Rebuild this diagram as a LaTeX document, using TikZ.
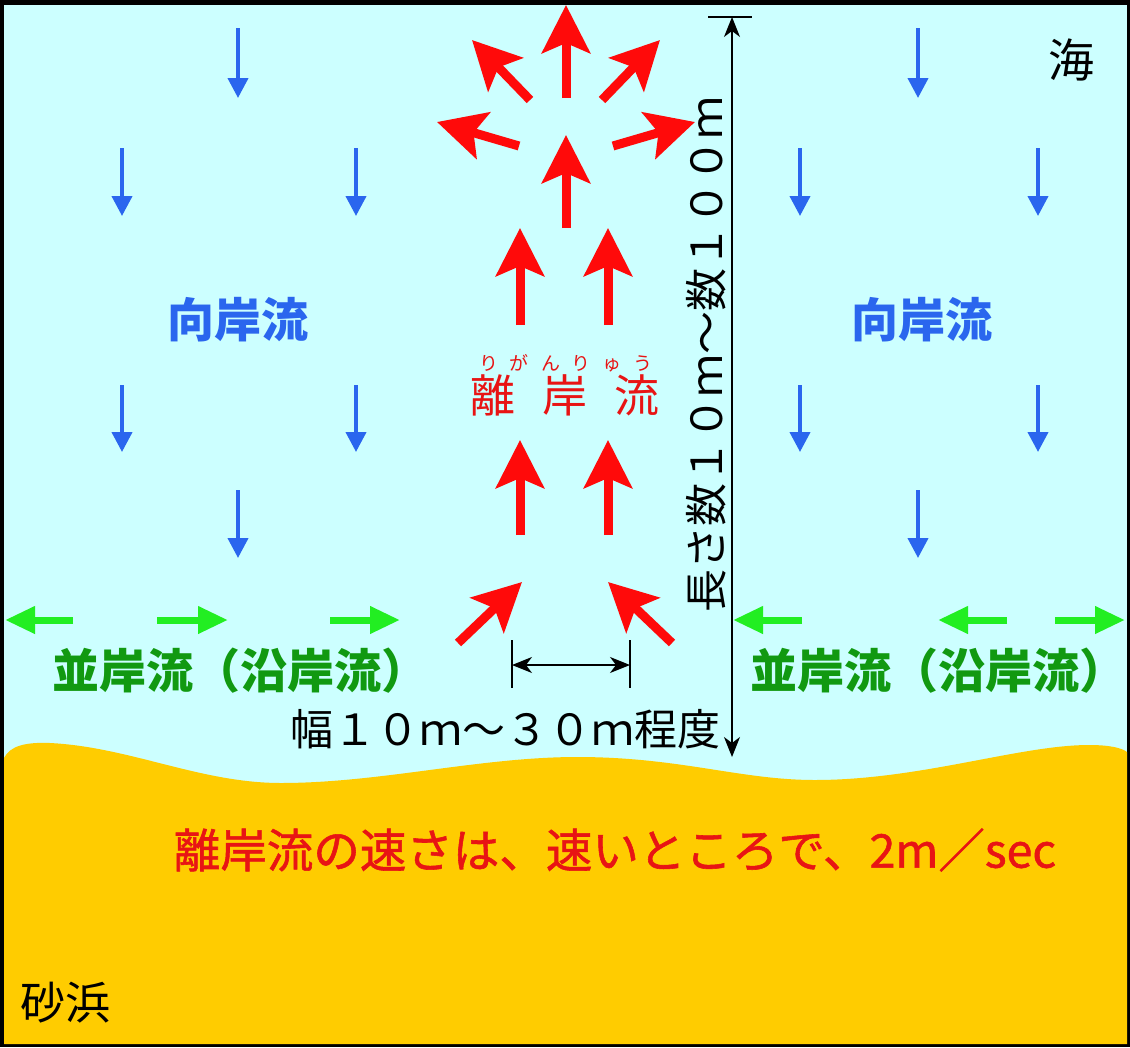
\documentclass[tikz,border=0pt]{standalone}
\usepackage{fontspec}
\newfontfamily\jp{Noto Sans CJK JP}
\newfontfamily\jpm[FakeBold=1.2]{Noto Sans CJK JP}
\usetikzlibrary{arrows.meta}
\definecolor{sea}{HTML}{CCFFFF}
\definecolor{sand}{HTML}{FFCC00}
\definecolor{bluec}{HTML}{2A66EE}
\definecolor{redc}{HTML}{FF0A0A}
\definecolor{redt}{HTML}{E81414}
\definecolor{greenc}{HTML}{22EE22}
\definecolor{dgreen}{HTML}{119911}
\tikzset{
  bluearr/.style={draw=bluec, line width=4pt, -{Triangle[length=20pt,width=20pt]}},
  redarr/.style={draw=redc, line width=9pt, -{Stealth[length=48pt,width=48pt,inset=10pt]}},
  greenarr/.style={draw=greenc, line width=7pt, -{Triangle[length=30pt,width=26pt]}},
  dimarr/.style={draw=black, line width=1.3pt, {Stealth[length=20pt,width=16pt,inset=6pt]}-{Stealth[length=20pt,width=16pt,inset=6pt]}},
  tick/.style={draw=black, line width=1.3pt},
  lbl/.style={inner sep=0pt, font=\jp},
}
\begin{document}
\begin{tikzpicture}[x=1pt,y=-1pt]
\useasboundingbox (0,0) rectangle (1130,1047);
\fill[black] (0,0) rectangle (1130,1047);
\fill[sea] (4,5) rectangle (1127,1044);
% sand
\fill[sand] (4,758) .. controls (10,746) and (25,742) .. (50,743)
  .. controls (130,747) and (200,783) .. (281,783)
  .. controls (380,783) and (480,757) .. (577,757)
  .. controls (680,757) and (740,780) .. (815,780)
  .. controls (920,780) and (1020,745) .. (1089,745)
  .. controls (1110,745) and (1122,748) .. (1127,752)
  -- (1127,1044) -- (4,1044) -- cycle;
% blue arrows (onshore current)
\foreach \x/\a/\b in {238/28/98, 122/148/216, 356/148/216, 122/385/452, 356/385/452, 238/490/558,
                      918/28/98, 800/148/216, 1038/148/216, 800/385/452, 1038/385/452, 918/490/558}
  \draw[bluearr] (\x,\a) -- (\x,\b);
% red arrows (rip current)
\draw[redarr] (566,98) -- (566,5);
\draw[redarr] (530,100) -- (472,40);
\draw[redarr] (602,100) -- (660,40);
\draw[redarr] (519,146) -- (437,122);
\draw[redarr] (613,146) -- (695,122);
\draw[redarr] (566,228) -- (566,135);
\draw[redarr] (520,325) -- (520,228);
\draw[redarr] (608,325) -- (608,228);
\draw[redarr] (520,535) -- (520,440);
\draw[redarr] (608,535) -- (608,440);
\draw[redarr] (458,643) -- (522,582);
\draw[redarr] (672,643) -- (608,582);
% green arrows (longshore current)
\draw[greenarr] (73,620) -- (5,620);
\draw[greenarr] (157,620) -- (228,620);
\draw[greenarr] (330,620) -- (400,620);
\draw[greenarr] (802,620) -- (733,620);
\draw[greenarr] (1007,620) -- (938,620);
\draw[greenarr] (1055,620) -- (1125,620);
% dimension: width
\coordinate (wl) at (512,665);
\coordinate (wr) at (630,665);
\draw[tick] (512,640) -- (512,688);
\draw[tick] (630,640) -- (630,688);
\draw[dimarr] (wl) -- (wr);
% dimension: length
\coordinate (lt) at (732,17);
\coordinate (lb) at (732,757);
\draw[tick] (708,17) -- (752,17);
\draw[dimarr] (lt) -- (lb);
% labels
\node[lbl, font=\jp\fontsize{46}{46}\selectfont] (umi) at (1071,60) {海};
\node[lbl, font=\jp\fontsize{45}{45}\selectfont] (suna) at (65,1003) {砂浜};
\node[lbl, text=bluec, font=\jp\bfseries\fontsize{47}{47}\selectfont] (kl) at (238,320) {向岸流};
\node[lbl, text=bluec, font=\jp\bfseries\fontsize{47}{47}\selectfont] (kr) at (922,320) {向岸流};
\node[lbl, text=dgreen, font=\jp\bfseries\fontsize{47}{47}\selectfont, anchor=west] (gl) at (52,671) {並岸流（沿岸流）};
\node[lbl, text=dgreen, font=\jp\bfseries\fontsize{47}{47}\selectfont, anchor=west] (gr) at (750,671) {並岸流（沿岸流）};
\node[lbl, text=redt, font=\jp\fontsize{45}{45}\selectfont] (rigan) at (565,395) {離\hspace{27pt}岸\hspace{27pt}流};
\node[lbl, text=redt, font=\jp\fontsize{19}{19}\selectfont] (furi) at (566,363) {り\hspace{12pt}が\hspace{12pt}ん\hspace{12pt}り\hspace{12pt}ゅ\hspace{12pt}う};
\node[lbl, font=\jp\fontsize{43}{43}\selectfont] (haba) at (505,729) {幅１０ｍ～３０ｍ程度};
\node[lbl, font=\jp\fontsize{43}{43}\selectfont, rotate=90] (naga) at (706,354) {長さ数１０ｍ～数１００ｍ};
\node[lbl, text=redt, font=\jpm\fontsize{46.5}{46.5}\selectfont] (speed) at (615,850) {離岸流の速さは、速いところで、2m／sec};
\end{tikzpicture}
\end{document}
